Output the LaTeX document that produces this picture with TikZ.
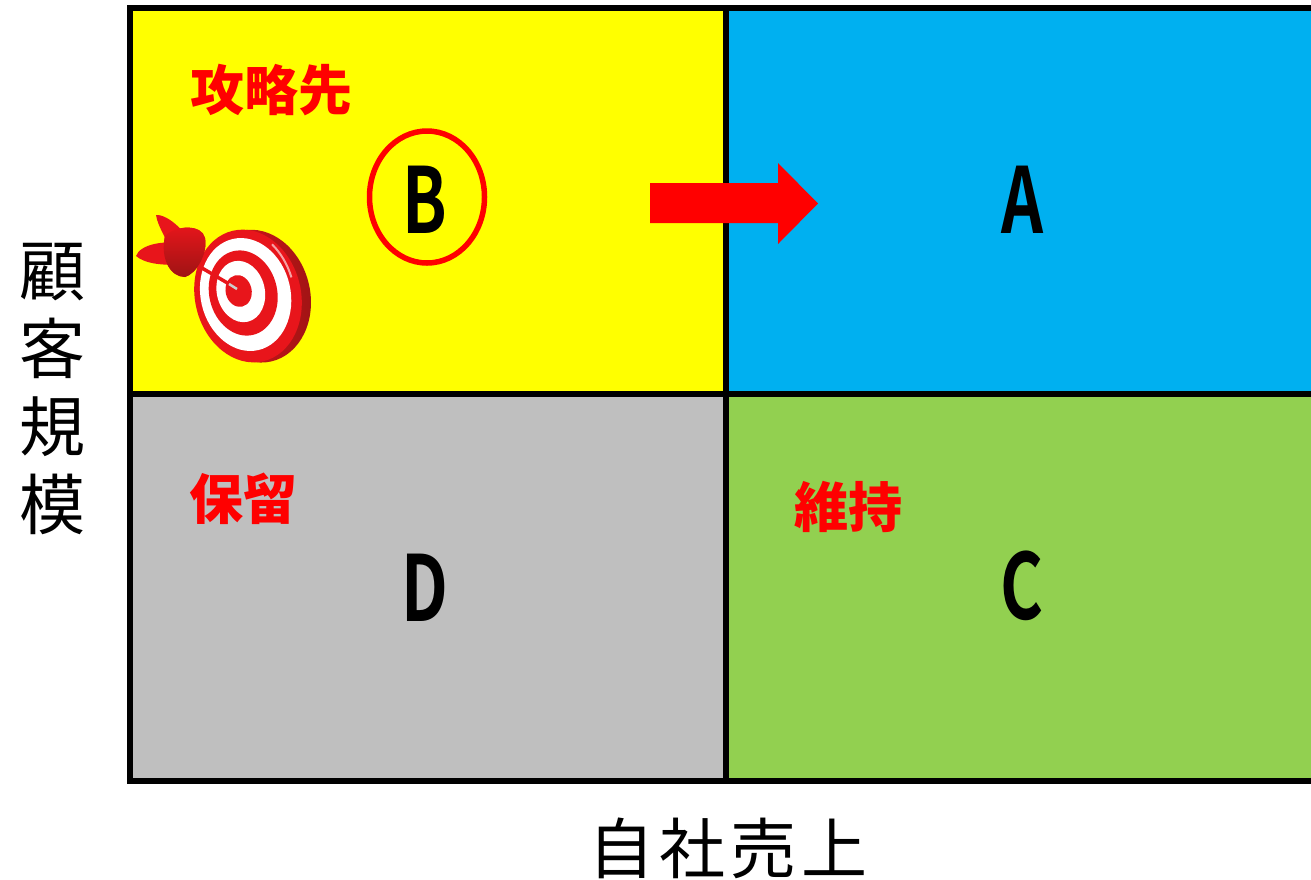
\documentclass[tikz,border=0pt]{standalone}
\usepackage{fontspec}
\newfontfamily\jpfont{Noto Sans CJK JP}
\newfontfamily\gradefont{Noto Sans CJK JP Bold}
\definecolor{qyellow}{HTML}{FFFF00}
\definecolor{qblue}{HTML}{00B0F0}
\definecolor{qgreen}{HTML}{92D050}
\definecolor{qgray}{HTML}{BFBFBF}
\definecolor{qred}{HTML}{FF0000}
\definecolor{rimred}{HTML}{9E1414}
\definecolor{facered}{HTML}{E8151B}
\begin{document}
\begin{tikzpicture}[x=1pt,y=-1pt,
  gridline/.style={line width=6pt},
  grade/.style={font=\fontsize{91}{91}\selectfont\gradefont, inner sep=0pt},
  tag/.style={text=qred, font=\fontsize{54}{54}\selectfont\jpfont\bfseries, inner sep=0pt},
  axislabel/.style={font=\fontsize{66}{78}\selectfont\jpfont, inner sep=0pt},
  fin/.style={fill=facered}]
\useasboundingbox (0,0) rectangle (1311,879);

% quadrant fills and grid
\begin{scope}
\clip (0,0) rectangle (1311,879);
\fill[qyellow] (129.5,8) rectangle (726,394);
\fill[qblue]   (726,8)   rectangle (1320,394);
\fill[qgray]   (129.5,394) rectangle (726,781);
\fill[qgreen]  (726,394) rectangle (1320,781);
\draw[gridline] (1320,8) -- (129.5,8) -- (129.5,781) -- (1320,781);
\draw[gridline] (726,8) -- (726,781);
\draw[gridline] (129.5,394) -- (1320,394);
\end{scope}

% grade letters
\node[grade] (B) at (425,200) {\scalebox{0.72}[1]{B}};
\node[grade] (A) at (1022,200) {\scalebox{0.72}[1]{A}};
\node[grade] (D) at (425,588) {\scalebox{0.72}[1]{D}};
\node[grade] (C) at (1022,586) {\scalebox{0.72}[1]{C}};
\draw[qred, line width=5.5pt] (427,197) ellipse [x radius=57.5, y radius=66];

% block arrow from B to A
\fill[qred] (650,183) -- (778,183) -- (778,163) -- (818,203.5)
  -- (778,244) -- (778,223) -- (650,223) -- cycle;

% quadrant tags
\node[tag] (tB) at (271,90) {攻略先};
\node[tag] (tD) at (243,499) {保留};
\node[tag] (tC) at (848,507) {維持};

% axis labels
\node[axislabel, align=center] (yl) at (52,389) {顧\\客\\規\\模};
\node[axislabel] (xl) at (728,848) {自\hspace{5pt}社\hspace{5pt}売\hspace{5pt}上};

% dartboard
\begin{scope}[shift={(248,296)}, rotate=13]
  \shade[left color=facered, right color=rimred] (8,2) ellipse [x radius=54, y radius=67];
  \fill[facered] (0,0) ellipse [x radius=53, y radius=67];
  \fill[white] (-2,-2) ellipse [x radius=45, y radius=57];
  \fill[facered] (-4,-4) ellipse [x radius=34, y radius=43];
  \fill[white] (-6,-6) ellipse [x radius=24, y radius=31];
  \fill[facered] (-8,-7) ellipse [x radius=13, y radius=16];
  \draw[white, opacity=0.6, line width=2pt] (35,-45) arc [start angle=-40, end angle=-5, x radius=50, y radius=66];
\end{scope}

% dart: back flights, shaft, front flight
\fill[fin] (156,215) .. controls (168,214) and (190,234) .. (194,252)
  -- (174,258) .. controls (168,240) and (158,228) .. (156,215) -- cycle;
\fill[fin] (136,256) .. controls (140,244) and (166,240) .. (180,244)
  -- (184,264) .. controls (165,266) and (145,264) .. (136,256) -- cycle;
\draw[facered, line width=3.5pt, line cap=round] (236,288) -- (185,258);
\draw[gray!40, line width=2.5pt] (237,289) -- (229,284);
\fill[fin, shading=axis, top color=facered, bottom color=rimred]
  (165,236) .. controls (176,225) and (202,224) .. (205,238)
  .. controls (208,254) and (196,274) .. (185,277)
  .. controls (170,277) and (160,258) .. (165,236) -- cycle;
\end{tikzpicture}
\end{document}
